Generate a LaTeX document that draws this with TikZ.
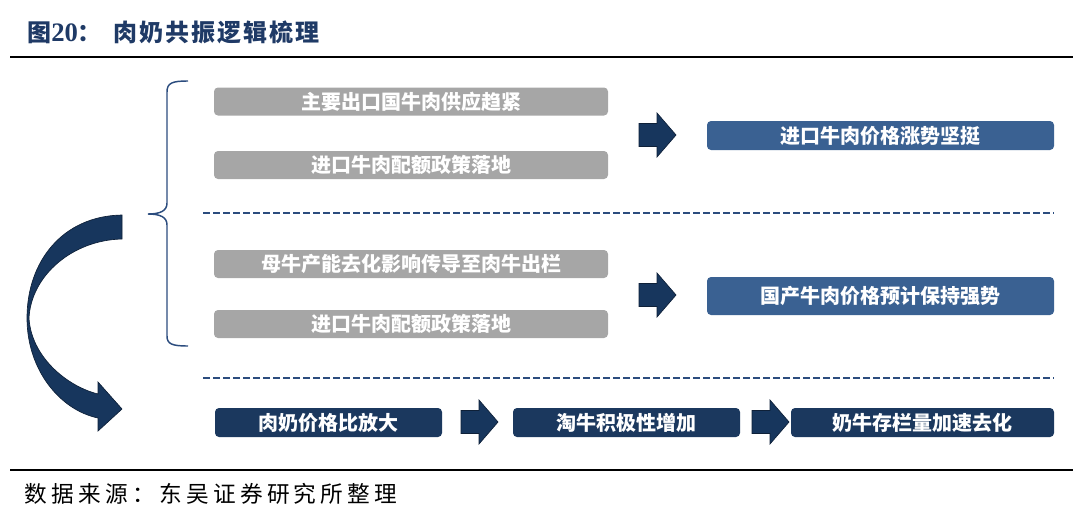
\documentclass[tikz,border=0pt]{standalone}
\usepackage{fontspec}
\newfontfamily\cjk{Noto Sans CJK SC}
\newfontfamily\numfont{Liberation Serif}
\usetikzlibrary{positioning, calc}

\definecolor{titleblue}{HTML}{1F3A66}
\definecolor{boxgray}{HTML}{A6A6A6}
\definecolor{steelblue}{HTML}{3A6192}
\definecolor{darknavy}{HTML}{1B385E}
\definecolor{arrownavy}{HTML}{17365D}
\definecolor{linenavy}{HTML}{2B4C7E}

\tikzset{
  boxtext/.style={text=white, font=\cjk\bfseries\fontsize{15}{15}\selectfont, inner sep=0pt, rounded corners=3pt},
  graybox/.style={boxtext, fill=boxgray, minimum width=394*0.75pt, minimum height=28*0.75pt},
  bluebox/.style={boxtext, fill=steelblue, minimum width=347*0.75pt},
  navybox/.style={boxtext, fill=darknavy, minimum height=29*0.75pt},
  sepline/.style={linenavy, line width=1.2pt, dash pattern=on 5pt off 2.5pt},
  rule/.style={black, line width=1.6pt},
  blockarrow/.style={fill=arrownavy, draw=arrownavy!60!black, line width=0.5pt},
}

% block arrow: #1 = coordinate of the point where the head starts
\newcommand{\blockarrow}[1]{%
  \draw[blockarrow] ($#1+(-18,-11.5)$) -- ($#1+(0,-11.5)$) -- ($#1+(0,-22)$)
    -- ($#1+(19,0)$) -- ($#1+(0,22)$) -- ($#1+(0,11.5)$) -- ($#1+(-18,11.5)$) -- cycle;}

\begin{document}
\begin{tikzpicture}[x=0.75pt, y=-0.75pt]
    \useasboundingbox (0,0) rectangle (1080,521);

    % Title and rules
    \node[anchor=west, text=titleblue, inner sep=0pt,
          font=\cjk\bfseries\fontsize{18}{18}\selectfont] (title) at (27,32)
          {图{\numfont\bfseries\fontsize{20}{20}\selectfont 20}：\hspace{9pt}{\addfontfeature{LetterSpace=8}肉奶共振逻辑梳理}};
    \coordinate (ruleL) at (10,57);
    \coordinate (ruleR) at (1073,57);
    \draw[rule] (ruleL) -- (ruleR);

    % Imported beef
    \node[graybox] (supply) at (411,101.5) {主要出口国牛肉供应趋紧};
    \node[graybox] (quotaA) at (411,165) {进口牛肉配额政策落地};
    \node[bluebox, minimum height=29*0.75pt] (impprice) at (880.5,135.5) {进口牛肉价格涨势坚挺};
    \blockarrow{(657,135)}

    \coordinate (dashA) at (203,213);
    \coordinate (dashB) at (1054,213);
    \draw[sepline] (dashA) -- (dashB);

    % Domestic beef
    \node[graybox] (cows) at (411,264) {母牛产能去化影响传导至肉牛出栏};
    \node[graybox] (quotaB) at (411,324) {进口牛肉配额政策落地};
    \node[bluebox, minimum height=38*0.75pt] (domprice) at (880.5,296) {国产牛肉价格预计保持强势};
    \blockarrow{(657,295)}

    \coordinate (dashC) at (203,378);
    \coordinate (dashD) at (1054,378);
    \draw[sepline] (dashC) -- (dashD);

    % Brace
    \draw[linenavy, line width=1.1pt] (188,81) .. controls (172,81) and (167,83) .. (167,92)
        -- (167,203) .. controls (167,211) and (160,214) .. (148,214)
        .. controls (160,214) and (167,217) .. (167,225)
        -- (167,336) .. controls (167,344) and (172,346) .. (188,346);

    % Curved arrow
    \draw[blockarrow] (122,215) .. controls (62,216) and (27,262) .. (27,318)
        .. controls (27,370) and (60,410) .. (98,418) -- (98,431) -- (122,409)
        -- (98,382) -- (98,394) .. controls (66,386) and (31,356) .. (29,318)
        .. controls (31,276) and (72,240) .. (122,239) -- cycle;

    % Dairy chain
    \node[navybox, minimum width=227*0.75pt] (ratio) at (328.5,422.5) {肉奶价格比放大};
    \node[navybox, minimum width=227*0.75pt] (cull) at (626.5,422.5) {淘牛积极性增加};
    \node[navybox, minimum width=263*0.75pt] (destock) at (922.5,422.5) {奶牛存栏量加速去化};
    \blockarrow{(479,422)}
    \blockarrow{(770,422)}

    % Source
    \coordinate (ruleBL) at (10,470);
    \coordinate (ruleBR) at (1073,470);
    \draw[rule] (ruleBL) -- (ruleBR);
    \node[anchor=west, inner sep=0pt, font=\cjk\fontsize{17}{17}\selectfont] (source) at (24,494)
        {\addfontfeature{LetterSpace=19}数据来源：东吴证券研究所整理};
\end{tikzpicture}
\end{document}
